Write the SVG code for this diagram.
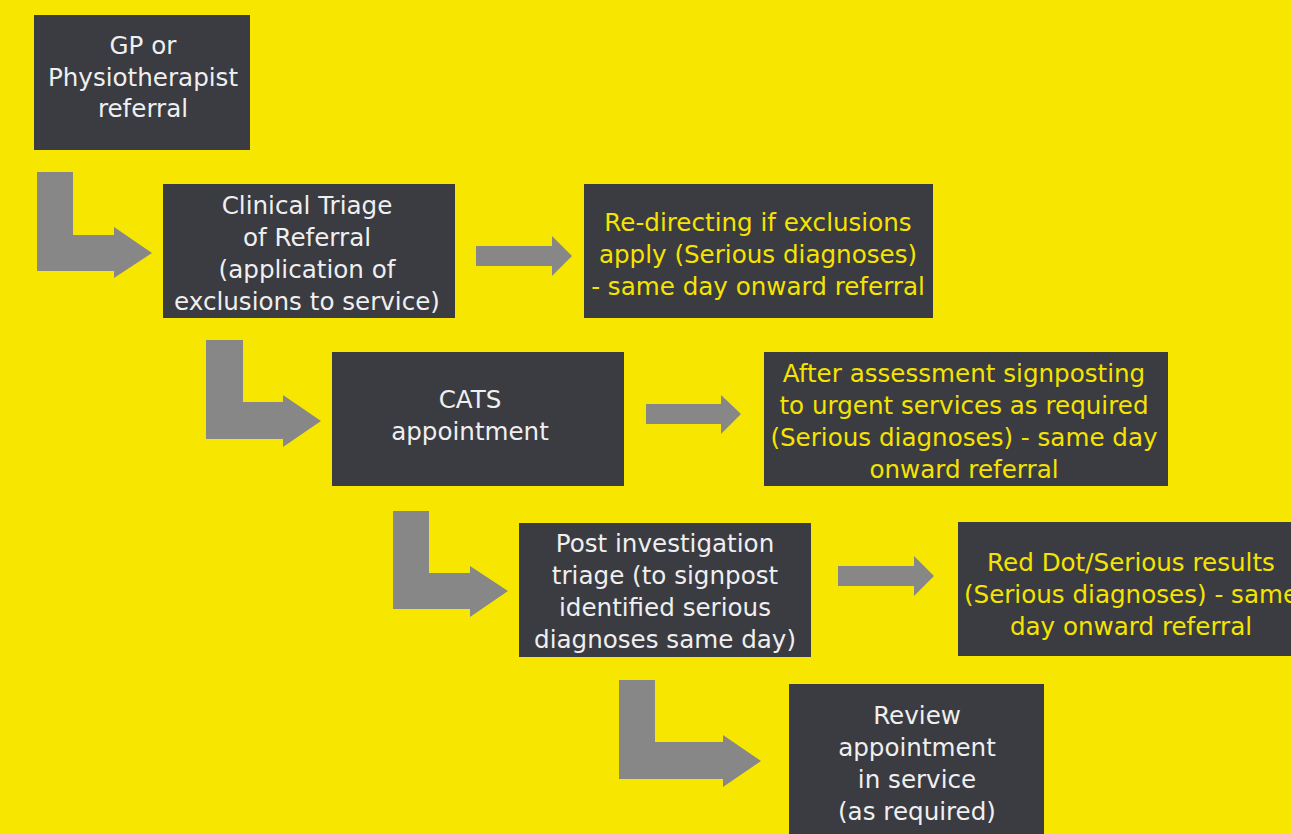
<svg xmlns="http://www.w3.org/2000/svg" width="1291" height="834" viewBox="0 0 1291 834">
<style>
.box{fill:#3b3b42}
.arr{fill:#878787}
text{font-family:"DejaVu Sans","Open Sans",sans-serif;font-size:24.6px;text-anchor:middle}
.w{fill:#efefef}
.y{fill:#f5e400}
</style>
<rect x="0" y="0" width="1291" height="834" fill="#f7e700"/>
<g id="connectors">
<polygon class="arr" points="37,172 73,172 73,235 114,235 114,227 152,253 114,278 114,271 37,271"/>
<polygon class="arr" points="206,340 243,340 243,402 283,402 283,395 321,421 283,447 283,439 206,439"/>
<polygon class="arr" points="393,511 429,511 429,573 470,573 470,566 508,591 470,617 470,609 393,609"/>
<polygon class="arr" points="619,680 655,680 655,742 723,742 723,735 761,761 723,787 723,779 619,779"/>
<polygon class="arr" points="476,246 552,246 552,236 572,256 552,276 552,266 476,266"/>
<polygon class="arr" points="646,404 721,404 721,395 741,414 721,434 721,424 646,424"/>
<polygon class="arr" points="838,566 914,566 914,556 934,576 914,596 914,586 838,586"/>
</g>
<g id="gp">
<rect class="box" x="34" y="15" width="216" height="135"/>
<text class="w" x="143" y="54">GP or</text>
<text class="w" x="143" y="86">Physiotherapist</text>
<text class="w" x="143" y="117">referral</text>
</g>
<g id="triage">
<rect class="box" x="163" y="184" width="292" height="134"/>
<text class="w" x="307" y="214">Clinical Triage</text>
<text class="w" x="307" y="246">of Referral</text>
<text class="w" x="307" y="278">(application of</text>
<text class="w" x="307" y="310">exclusions to service)</text>
</g>
<g id="redirect">
<rect class="box" x="584" y="184" width="349" height="134"/>
<text class="y" x="758" y="231">Re-directing if exclusions</text>
<text class="y" x="758" y="263">apply (Serious diagnoses)</text>
<text class="y" x="758" y="295">- same day onward referral</text>
</g>
<g id="cats">
<rect class="box" x="332" y="352" width="292" height="134"/>
<text class="w" x="470" y="408">CATS</text>
<text class="w" x="470" y="440">appointment</text>
</g>
<g id="after">
<rect class="box" x="764" y="352" width="404" height="134"/>
<text class="y" x="964" y="382">After assessment signposting</text>
<text class="y" x="964" y="414">to urgent services as required</text>
<text class="y" x="964" y="446">(Serious diagnoses) - same day</text>
<text class="y" x="964" y="478">onward referral</text>
</g>
<g id="post">
<rect class="box" x="519" y="523" width="292" height="134"/>
<text class="w" x="665" y="552">Post investigation</text>
<text class="w" x="665" y="584">triage (to signpost</text>
<text class="w" x="665" y="616">identified serious</text>
<text class="w" x="665" y="648">diagnoses same day)</text>
</g>
<g id="reddot">
<rect class="box" x="958" y="522" width="340" height="134"/>
<text class="y" x="1131" y="571">Red Dot/Serious results</text>
<text class="y" x="1131" y="603">(Serious diagnoses) - same</text>
<text class="y" x="1131" y="635">day onward referral</text>
</g>
<g id="review">
<rect class="box" x="789" y="684" width="255" height="160"/>
<text class="w" x="917" y="724">Review</text>
<text class="w" x="917" y="756">appointment</text>
<text class="w" x="917" y="788">in service</text>
<text class="w" x="917" y="820">(as required)</text>
</g>
</svg>
